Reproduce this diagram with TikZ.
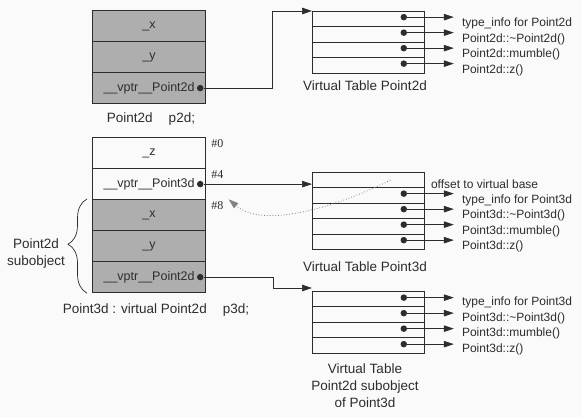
\documentclass[tikz,border=0pt]{standalone}
\usepackage{fontspec}
\usepackage{tikz}
\usetikzlibrary{arrows.meta,positioning,decorations.pathreplacing}
\setmainfont{Liberation Sans}
\newfontfamily\offsetfont{Liberation Serif}
\definecolor{cellgray}{RGB}{174,174,174}
\definecolor{inkdark}{RGB}{45,45,45}
\definecolor{paper}{RGB}{250,250,250}

\begin{document}
\begin{tikzpicture}[x=1pt,y=-1pt,
  cell/.style={draw=inkdark, line width=1.2pt, minimum width=113pt, minimum height=31pt, anchor=north west, inner sep=0pt, text=inkdark, font=\fontsize{12.5}{14}\selectfont},
  basecell/.style={cell, fill=cellgray},
  slot/.style={draw=inkdark, line width=0.8pt, minimum width=112pt, minimum height=15.5pt, anchor=north west, inner sep=0pt},
  ptr/.style={circle, fill=inkdark, inner sep=0pt, minimum size=6.5pt},
  link/.style={draw=inkdark, line width=0.7pt, -{Triangle[length=10pt,width=6.5pt]}},
  fnlabel/.style={anchor=west, inner sep=0pt, text=inkdark, font=\fontsize{12}{14}\selectfont},
  caption/.style={text=inkdark, align=center, font=\fontsize{13.5}{17}\selectfont},
  offs/.style={anchor=north west, inner sep=2pt, text=inkdark, font=\offsetfont\fontsize{12}{14}\selectfont}]

\useasboundingbox[fill=paper] (0,0) rectangle (582,417);

% objeto p2d
\node[basecell] (p2x) at (92,10) {\_x};
\node[basecell] (p2y) at (92,41) {\_y};
\node[basecell] (p2vptr) at (92,72) {\_\_vptr\_\_Point2d};
\node[ptr] (p2dot) at ([xshift=-6pt]p2vptr.east) {};
\node[caption, anchor=base] (p2cap) at (151,123) {Point2d\hspace{16pt}p2d;};

% tabla virtual de Point2d
\foreach \i in {1,...,4}
  \node[slot] (vtA\i) at (312,{11+(\i-1)*15.5}) {};
\foreach \i/\txt in {1/type\_info for Point2d, 2/Point2d::\textasciitilde Point2d(), 3/Point2d::mumble(), 4/Point2d::z()} {
  \node[ptr] (dA\i) at ([xshift=-21pt,yshift=2pt]vtA\i.east) {};
  \node[fnlabel] (fA\i) at ([xshift=37pt,yshift=-4.5pt]vtA\i.east) {\txt};
  \draw[link] (dA\i) -- ([xshift=-8pt]dA\i -| fA\i.west);
}
\node[caption, anchor=base] (vtAcap) at (365,91) {Virtual Table Point2d};
\draw[link] (p2dot) -| ([xshift=-40pt]vtA1.north west) -- (vtA1.north west);

% objeto p3d
\node[cell] (p3z) at (92,137) {\_z};
\node[cell] (p3vptr) at (92,168) {\_\_vptr\_\_Point3d};
\node[basecell] (p3x) at (92,199) {\_x};
\node[basecell] (p3y) at (92,230) {\_y};
\node[basecell] (p3vptrb) at (92,261) {\_\_vptr\_\_Point2d};
\node[ptr] (p3dot) at ([xshift=-6pt]p3vptr.east) {};
\node[ptr] (p3bdot) at ([xshift=-6pt]p3vptrb.east) {};
\node[offs] (off0) at ([xshift=3pt]p3z.north east) {\#0};
\node[offs] (off4) at ([xshift=3pt]p3vptr.north east) {\#4};
\node[offs] (off8) at ([xshift=3pt]p3x.north east) {\#8};
\node[caption, anchor=base] (p3cap) at (156,314) {Point3d : virtual Point2d\hspace{16pt}p3d;};

% subobjeto Point2d
\draw[inkdark, line width=0.7pt, decorate, decoration={brace, amplitude=19pt, aspect=0.52}]
  ([xshift=-5pt]p3vptrb.south west) -- ([xshift=-5pt]p3x.north west);
\node[caption] (subobj) at (36,254) {Point2d\\subobject};

% tabla virtual de Point3d
\foreach \i in {1,...,5}
  \node[slot] (vtB\i) at (312,{172+(\i-1)*15.5}) {};
\node[fnlabel] (fB1) at ([xshift=6pt,yshift=-4pt]vtB1.east) {offset to virtual base};
\foreach \i/\txt in {2/type\_info for Point3d, 3/Point3d::\textasciitilde Point3d(), 4/Point3d::mumble(), 5/Point3d::z()} {
  \node[ptr] (dB\i) at ([xshift=-21pt,yshift=2pt]vtB\i.east) {};
  \node[fnlabel] (fB\i) at ([xshift=37pt,yshift=-4.5pt]vtB\i.east) {\txt};
  \draw[link] (dB\i) -- ([xshift=-8pt]dB\i -| fB\i.west);
}
\node[caption, anchor=base] (vtBcap) at (365,272) {Virtual Table Point3d};
\draw[link] (p3dot) -- (p3dot -| vtB1.west);
\coordinate (back8) at ([xshift=3pt,yshift=6pt]off8.east);
\draw[inkdark!60, line width=0.8pt, dotted, -{Triangle[length=10pt,width=6.5pt]}]
  ([xshift=22pt]vtB1.center) .. controls (330,210) and (262,228) .. (back8);

% tabla virtual del subobjeto Point2d de Point3d
\foreach \i in {1,...,4}
  \node[slot] (vtC\i) at (312,{291+(\i-1)*15.5}) {};
\foreach \i/\txt in {1/type\_info for Point3d, 2/Point3d::\textasciitilde Point3d(), 3/Point3d::mumble(), 4/Point3d::z()} {
  \node[ptr] (dC\i) at ([xshift=-21pt,yshift=1.5pt]vtC\i.east) {};
  \node[fnlabel] (fC\i) at ([xshift=37pt,yshift=-3.5pt]vtC\i.east) {\txt};
  \draw[link] (dC\i) -- ([xshift=-8pt]dC\i -| fC\i.west);
}
\node[caption] (vtCcap) at (365,386) {Virtual Table\\Point2d subobject\\of Point3d};
\draw[link] (p3bdot) -| ([xshift=-39pt,yshift=3pt]vtC1.north west) -- ([yshift=3pt]vtC1.north west);
\end{tikzpicture}
\end{document}
